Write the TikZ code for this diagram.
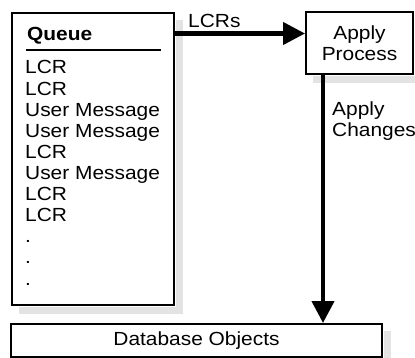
\documentclass[tikz,border=0pt]{standalone}
\usepackage{fontspec}
\setmainfont{Liberation Sans}[FakeStretch=1.1]
\usetikzlibrary{arrows.meta}
\definecolor{shadowgray}{HTML}{E3E3E3}
\begin{document}
\begin{tikzpicture}[x=1pt,y=-1pt,
  txt/.style={font=\fontsize{19}{21}\selectfont, inner sep=0pt},
  boxstyle/.style={draw=black, line width=2pt, fill=white,
    inner sep=0pt, font=\fontsize{19}{21}\selectfont, align=center},
  shadowfill/.style={fill=shadowgray},
  arr/.style={line width=4.3pt, -{Triangle[length=22pt,width=22pt]}}
]
\useasboundingbox (0,0) rectangle (415,358);
\fill[white] (0,0) rectangle (415,358);

\node[boxstyle, minimum width=162pt, minimum height=292pt] (queue) at (93,159) {};
\node[boxstyle, minimum width=107pt, minimum height=62pt] (apply) at (359.5,43) {Apply\\Process};
\node[boxstyle, minimum width=371pt, minimum height=33pt] (db) at (196.5,340.5) {Database Objects};

\foreach \b in {queue,apply,db}{
  \fill[shadowfill] ([shift={(1,8)}]\b.north east) rectangle ([shift={(8,8)}]\b.south east);
  \fill[shadowfill] ([shift={(8,1)}]\b.south west) rectangle ([shift={(8,8)}]\b.south east);
}

\node[txt, font=\fontsize{19}{21}\selectfont\bfseries, anchor=base west] (title) at (27,41) {Queue};
\coordinate (ulA) at (26,50);
\coordinate (ulB) at (161,50);
\draw[line width=2pt] (ulA) -- (ulB);

\foreach \t [count=\i] in {LCR,LCR,User Message,User Message,LCR,User Message,LCR,LCR,.,.,.}
  \node[txt, anchor=base west] (q\i) at (25,74+21.1*\i-21.1) {\t};

\draw[arr] ([yshift=-21.5pt]queue.north east) -- ([yshift=-21.5pt]queue.north east -| apply.west);
\draw[arr] ([xshift=-36.5pt]apply.south) -- ([xshift=-36.5pt]apply.south |- db.north);

\node[txt, anchor=base west] (lcrs) at (188,28) {LCRs};
\node[txt, anchor=north west, align=left] (chg) at (332,102) {Apply\\Changes};
\end{tikzpicture}
\end{document}
